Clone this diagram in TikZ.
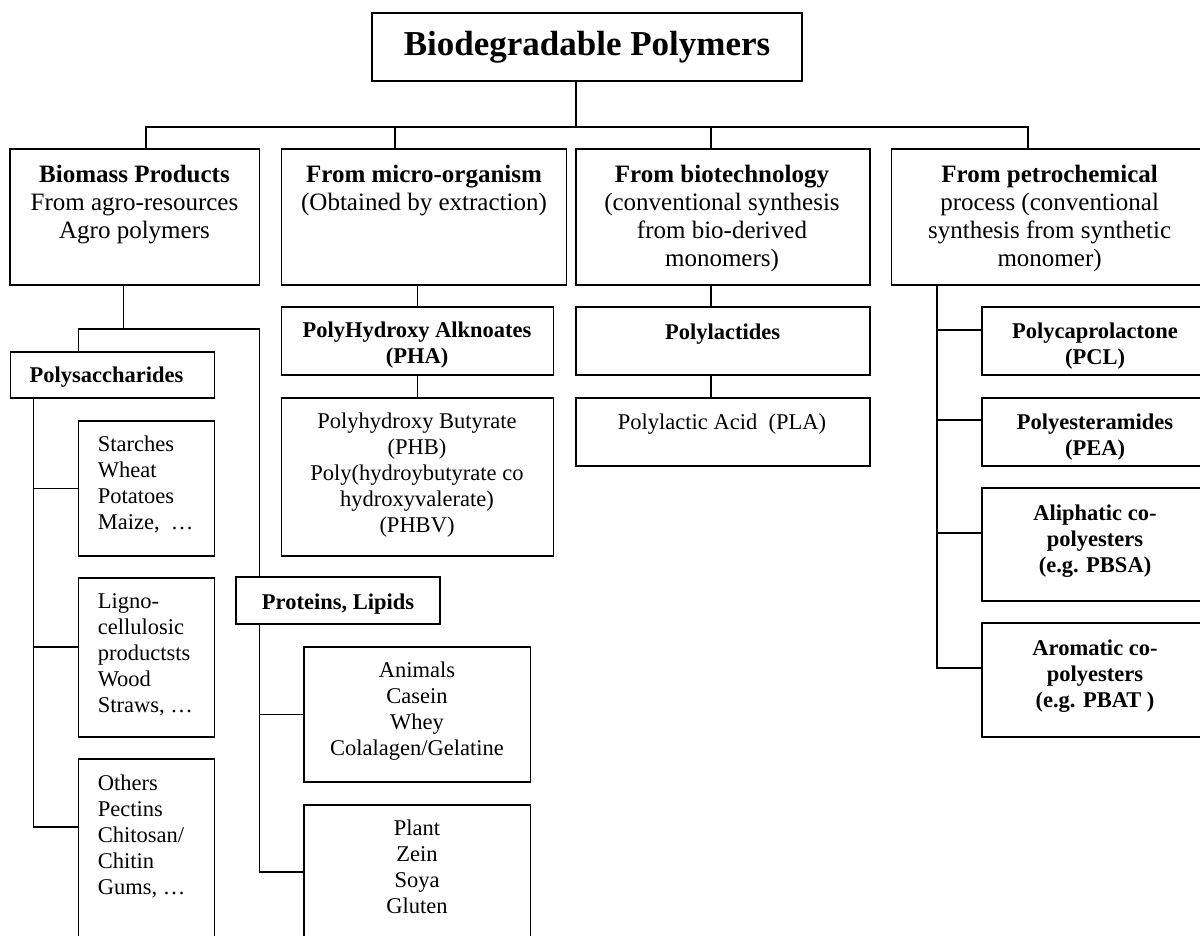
\documentclass[tikz,border=0pt]{standalone}
\usepackage{fontspec}
\setmainfont{Liberation Serif}
\newcommand\myst{\rule{0pt}{20pt}}
\begin{document}
\begin{tikzpicture}[x=1pt,y=-1pt,
  bx/.style={draw, line width=1.5pt, inner sep=0pt, outer sep=0pt},
  ln/.style={line width=1.5pt},
  tA/.style={font=\fontsize{25}{28}\selectfont, align=center, anchor=north, inner sep=0pt},
  tB/.style={font=\fontsize{22.5}{26}\selectfont, align=center, anchor=north, inner sep=0pt},
  tBb/.style={font=\fontsize{22.5}{26}\selectfont\bfseries, align=center, anchor=north, inner sep=0pt},
  tL/.style={font=\fontsize{22.5}{26}\selectfont, align=left, anchor=north west, inner sep=0pt},
  tS/.style={font=\fontsize{22.5}{26}\selectfont\bfseries, anchor=base, inner sep=0pt}]
\useasboundingbox (0,0) rectangle (1200,936);
\clip (0,0) rectangle (1200,936);

% boxes
\node[bx, minimum width=430, minimum height=68] (title) at (587,47) {};
\node[bx, minimum width=249.5, minimum height=136] (biomass) at (134.75,217) {};
\node[bx, minimum width=285.4, minimum height=136] (micro) at (424,217) {};
\node[bx, minimum width=294, minimum height=136] (biotech) at (723,217) {};
\node[bx, minimum width=316.4, minimum height=136] (petro) at (1049.8,217) {};
\node[bx, minimum width=204, minimum height=46] (polysac) at (112.3,375) {};
\node[bx, minimum width=135.8, minimum height=135] (starches) at (146.4,488.5) {};
\node[bx, minimum width=135.8, minimum height=159] (ligno) at (146.4,657.5) {};
\node[bx, minimum width=135.8, minimum height=201] (others) at (146.4,859.5) {};
\node[bx, minimum width=204, minimum height=47] (proteins) at (338,600.5) {};
\node[bx, minimum width=226.4, minimum height=135] (animals) at (417.2,714.5) {};
\node[bx, minimum width=226.4, minimum height=155] (plant) at (417.2,882.5) {};
\node[bx, minimum width=272.1, minimum height=68] (pha) at (417.35,341) {};
\node[bx, minimum width=272.1, minimum height=158] (phb) at (417.35,477) {};
\node[bx, minimum width=294, minimum height=68] (polylact) at (723,341) {};
\node[bx, minimum width=294, minimum height=68] (pla) at (723,432) {};
\node[bx, minimum width=226, minimum height=68] (pcl) at (1095,341) {};
\node[bx, minimum width=226, minimum height=68] (pea) at (1095,432) {};
\node[bx, minimum width=226, minimum height=113] (aliph) at (1095,544.5) {};
\node[bx, minimum width=226, minimum height=114] (arom) at (1095,680) {};

% texts
\node[font=\fontsize{35}{40}\selectfont\bfseries, anchor=base, inner sep=0pt] (titleT) at (587,56) {Biodegradable Polymers};
\node[tA] (biomassT) at (134.5,162) {\myst\textbf{Biomass Products}\\From agro-resources\\Agro polymers};
\node[tA] (microT) at (424,162) {\myst\textbf{From micro-organism}\\(Obtained by extraction)};
\node[tA] (biotechT) at (722,162) {\myst\textbf{From biotechnology}\\(conventional synthesis\\from bio-derived\\monomers)};
\node[tA] (petroT) at (1049.6,162) {\myst\textbf{From petrochemical}\\process (conventional\\synthesis from synthetic\\monomer)};
\node[tS] (polysacT) at (106.4,382) {Polysaccharides};
\node[tL] (starchesT) at (97.6,431) {\myst Starches\\Wheat\\Potatoes\\Maize,\ \ …};
\node[tL] (lignoT) at (97.6,588) {\myst Ligno-\\cellulosic\\productsts\\Wood\\Straws, …};
\node[tL] (othersT) at (97.6,770) {\myst Others\\Pectins\\Chitosan/\\Chitin\\Gums, …};
\node[tS] (proteinsT) at (338,609) {Proteins, Lipids};
\node[tB] (animalsT) at (417,657) {\myst Animals\\Casein\\Whey\\Colalagen/Gelatine};
\node[tB] (plantT) at (417,815) {\myst Plant\\Zein\\Soya\\Gluten};
\node[tBb] (phaT) at (417,317) {\myst PolyHydroxy Alknoates\\(PHA)};
\node[tB] (phbT) at (417,408) {\myst Polyhydroxy Butyrate\\(PHB)\\Poly(hydroybutyrate co\\hydroxyvalerate)\\(PHBV)};
\node[tS] (polylactT) at (722.5,339) {Polylactides};
\node[tS, font=\fontsize{22.5}{26}\selectfont] (plaT) at (722,429) {Polylactic Acid\ \ (PLA)};
\node[tBb] (pclT) at (1095,318) {\myst Polycaprolactone\\(PCL)};
\node[tBb] (peaT) at (1095,409) {\myst Polyesteramides\\(PEA)};
\node[tBb] (aliphT) at (1095,500) {\myst Aliphatic co-\\polyesters\\(e.g. PBSA)};
\node[tBb] (aromT) at (1095,635) {\myst Aromatic co-\\polyesters\\(e.g. PBAT )};

% junction coordinates
\coordinate (j0) at (576,127);
\coordinate (d1) at (146,127);
\coordinate (d2) at (395,127);
\coordinate (d3) at (711,127);
\coordinate (d4) at (1028,127);
\coordinate (e1) at (123.6,329);
\coordinate (e2) at (78.5,329);
\coordinate (e3) at (259.5,329);
\coordinate (v1) at (33.3,398);
\coordinate (s2) at (78.5,647);
\coordinate (s3) at (78.5,827);
\coordinate (pl) at (304,872);
\coordinate (v2) at (936.8,285);
\coordinate (r1) at (982,330);
\coordinate (r2) at (982,420);
\coordinate (r3) at (982,533);
\coordinate (r4) at (982,668);

% connectors
\draw[ln] (title.south -| j0) -- (j0);
\draw[ln] (biomass.north -| d1) -- (d1) -- (d4) -- (petro.north -| d4);
\draw[ln] (d2) -- (micro.north -| d2);
\draw[ln] (d3) -- (biotech.north -| d3);
\draw[ln] (micro.south -| pha.north) -- (pha.north);
\draw[ln] (pha.south) -- (phb.north);
\draw[ln] (biotech.south -| d3) -- (polylact.north -| d3);
\draw[ln] (polylact.south -| d3) -- (pla.north -| d3);
\draw[ln] (biomass.south -| e1) -- (e1);
\draw[ln] (polysac.north -| e2) |- (e3) -- (proteins.north -| e3);
\draw[ln] (polysac.south -| v1) |- (s3);
\draw[ln] (v1 |- starches.west) -- (starches.west);
\draw[ln] (v1 |- s2) -- (s2);
\draw[ln] (proteins.south -| e3) |- (pl);
\draw[ln] (e3 |- animals.west) -- (animals.west);
\draw[ln] (petro.south -| v2) |- (r4);
\draw[ln] (v2 |- r1) -- (r1);
\draw[ln] (v2 |- r2) -- (r2);
\draw[ln] (v2 |- r3) -- (r3);
\end{tikzpicture}
\end{document}
